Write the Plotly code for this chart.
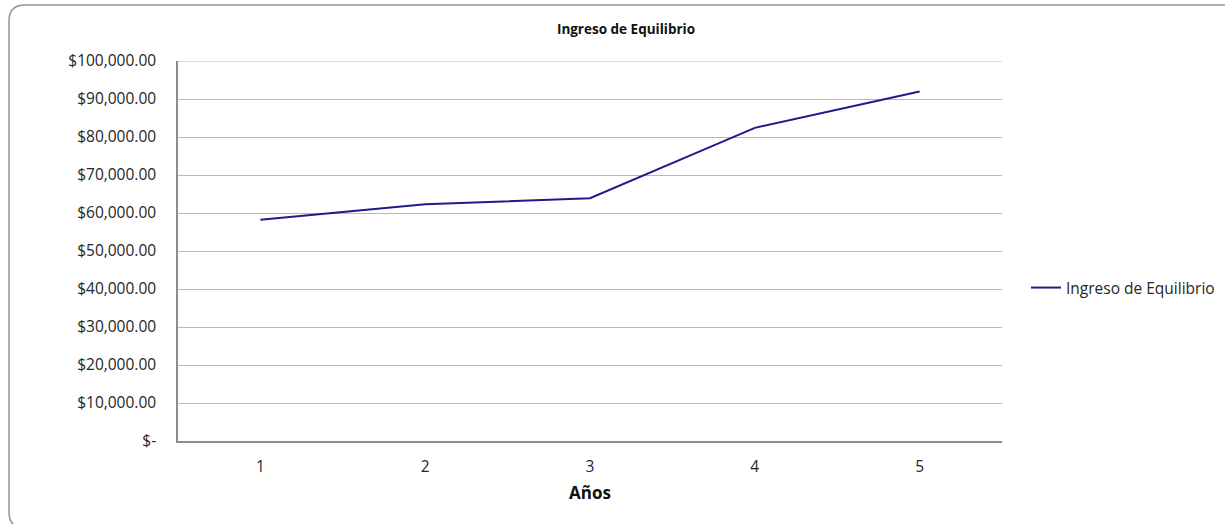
import plotly.graph_objects as go

years = ["1", "2", "3", "4", "5"]
ingreso = [58200, 62300, 63900, 82400, 92000]
y_tick_vals = [0, 10000, 20000, 30000, 40000, 50000, 60000, 70000, 80000, 90000, 100000]
y_tick_text = ["$-", "$10,000.00", "$20,000.00", "$30,000.00", "$40,000.00", "$50,000.00",
               "$60,000.00", "$70,000.00", "$80,000.00", "$90,000.00", "$100,000.00"]

W, H = 1225, 524
L, R, T, B = 178, 223, 61, 83
pw, ph = W - L - R, H - T - B

def px(x):
    return (x - L) / pw

def py(y):
    return (H - B - y) / ph

FONT = "Open Sans, sans-serif"
TXT = "#262626"
GRID = "#b8b8b8"

fig = go.Figure()
fig.add_trace(go.Scatter(
    x=years, y=ingreso, mode="lines", name="Ingreso de Equilibrio",
    line=dict(color="#1c1c8a", width=2),
))

# rounded border (right and bottom sides fall outside the image)
x0, x1, y0, y1, r = 9, 1245, 5, 528, 16
path = (f"M {px(x0 + r)},{py(y0)} L {px(x1 - r)},{py(y0)} "
        f"Q {px(x1)},{py(y0)} {px(x1)},{py(y0 + r)} "
        f"L {px(x1)},{py(y1 - r)} Q {px(x1)},{py(y1)} {px(x1 - r)},{py(y1)} "
        f"L {px(x0 + r)},{py(y1)} Q {px(x0)},{py(y1)} {px(x0)},{py(y1 - r)} "
        f"L {px(x0)},{py(y0 + r)} Q {px(x0)},{py(y0)} {px(x0 + r)},{py(y0)} Z")

fig.update_layout(
    width=W, height=H,
    margin=dict(l=L, r=R, t=T, b=B, autoexpand=False),
    paper_bgcolor="white", plot_bgcolor="white",
    font=dict(family=FONT, size=15.5, color=TXT),
    title=dict(text="<b>Ingreso de Equilibrio</b>", x=px(626), xref="paper",
               y=1 - 29 / H, yref="container", xanchor="center", yanchor="middle",
               font=dict(size=13.5, color="#111111", family=FONT)),
    showlegend=True,
    legend=dict(x=px(1026), y=py(288), xanchor="left", yanchor="middle",
                font=dict(size=15.5, color=TXT), bgcolor="rgba(0,0,0,0)",
                itemwidth=30),
    shapes=[
        dict(type="path", path=path, xref="paper", yref="paper",
             line=dict(color="#959595", width=1.5), layer="below"),
        dict(type="line", xref="paper", yref="y", x0=0, x1=1,
             y0=y_tick_vals[-1], y1=y_tick_vals[-1],
             line=dict(color=GRID, width=1.2), layer="below"),
    ],
    xaxis=dict(type="category", range=[-0.5, 4.5], showgrid=False,
               showline=True, linecolor="#8c8c8c", linewidth=1.5,
               ticks="", ticklabelstandoff=11, tickfont=dict(size=15.5, color=TXT),
               title=dict(text="<b>Años</b>", font=dict(size=17, color="#111111"), standoff=11)),
    yaxis=dict(range=[0, 100000], tickvals=y_tick_vals, ticktext=y_tick_text,
               showgrid=True, gridcolor=GRID, gridwidth=1.2,
               showline=True, linecolor="#8c8c8c", linewidth=1.5,
               ticks="", ticklabelstandoff=17, zeroline=False,
               tickfont=dict(size=15.5, color=TXT)),
)

fig.write_html("out.html", config={"displayModeBar": False},
               post_script="document.body.style.margin='0';")
